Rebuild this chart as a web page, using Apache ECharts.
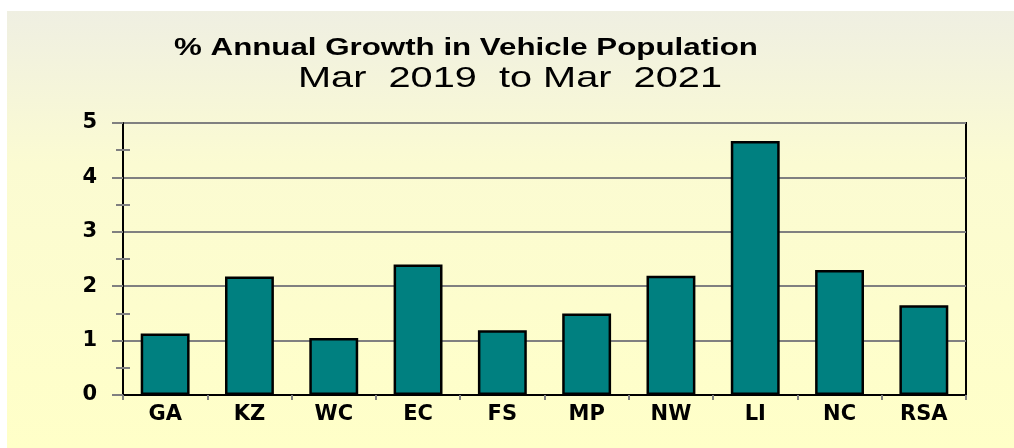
<!DOCTYPE html>
<html>
<head>
<meta charset="utf-8">
<script src="https://cdn.jsdelivr.net/npm/echarts@6/dist/echarts.min.js"></script>
<style>
  html, body { margin: 0; padding: 0; background: #fff; }
  #chart { width: 1014px; height: 448px; }
</style>
</head>
<body>
<div id="chart"></div>
<script>
// provinces and growth values (%)
const regions = ['GA', 'KZ', 'WC', 'EC', 'FS', 'MP', 'NW', 'LI', 'NC', 'RSA']
const growth = [1.13, 2.18, 1.05, 2.40, 1.19, 1.50, 2.19, 4.67, 2.30, 1.65]
const yTicks = [0, 1, 2, 3, 4, 5]
const titleText = '% Annual Growth in Vehicle Population'
const subText = 'Mar  2019  to Mar  2021'

const chart = echarts.init(document.getElementById('chart'))

const labelFont = {
    color: '#000',
    fontFamily: 'DejaVu Sans',
    fontWeight: 'bold',
    fontSize: 21
}

const option = {
    animation: false,
    graphic: [
        {
            type: 'rect',
            z: -10,
            silent: true,
            shape: { x: 7, y: 11, width: 1007, height: 437 },
            style: {
                fill: new echarts.graphic.LinearGradient(0, 0, 0, 1, [
                    { offset: 0, color: '#efefe2' },
                    { offset: 0.35, color: '#fbfbd2' },
                    { offset: 1, color: '#ffffc8' }
                ])
            }
        },
        {
            // the original title is stretched sideways
            type: 'text',
            x: 466,
            y: 37,
            scaleX: 1.36,
            style: {
                text: titleText,
                textAlign: 'center',
                textVerticalAlign: 'top',
                fontFamily: 'Liberation Sans',
                fontWeight: 'bold',
                fontSize: 23,
                fill: '#000'
            }
        },
        {
            type: 'text',
            x: 510,
            y: 64,
            scaleX: 1.37,
            style: {
                text: subText,
                textAlign: 'center',
                textVerticalAlign: 'top',
                fontFamily: 'Liberation Sans',
                fontWeight: 'normal',
                fontSize: 29,
                fill: '#000'
            }
        }
    ],
    grid: {
        left: 123,
        right: 48,
        top: 123,
        bottom: 53,
        show: true,
        borderColor: '#000',
        borderWidth: 2,
        backgroundColor: 'transparent'
    },
    xAxis: {
        type: 'category',
        data: regions,
        axisLine: { lineStyle: { color: '#000', width: 2 } },
        axisTick: {
            show: true,
            alignWithLabel: false,
            length: 5,
            lineStyle: { color: '#808080', width: 2 }
        },
        axisLabel: Object.assign({ margin: 9 }, labelFont)
    },
    yAxis: [
        {
            type: 'value',
            min: yTicks[0],
            max: yTicks[yTicks.length - 1],
            interval: 1,
            axisLine: { show: true, lineStyle: { color: '#000', width: 2 } },
            axisTick: {
                show: true,
                length: 11,
                lineStyle: { color: '#808080', width: 2 }
            },
            minorTick: {
                show: true,
                splitNumber: 2,
                length: 7,
                lineStyle: { color: '#808080', width: 2 }
            },
            splitLine: { show: true, lineStyle: { color: '#808080', width: 2 } },
            axisLabel: Object.assign({ margin: 26 }, labelFont)
        },
        {
            type: 'value',
            position: 'left',
            min: yTicks[0],
            max: yTicks[yTicks.length - 1],
            interval: 1,
            axisLine: { show: false },
            axisTick: { show: false },
            minorTick: {
                show: true,
                splitNumber: 2,
                length: -7,
                lineStyle: { color: '#808080', width: 2 }
            },
            splitLine: { show: false },
            axisLabel: { show: false }
        }
    ],
    series: [
        {
            type: 'bar',
            data: growth,
            barWidth: '58%',
            itemStyle: {
                color: '#008080',
                borderColor: '#000',
                borderWidth: 2.5
            }
        }
    ]
}

chart.setOption(option)
</script>
</body>
</html>
